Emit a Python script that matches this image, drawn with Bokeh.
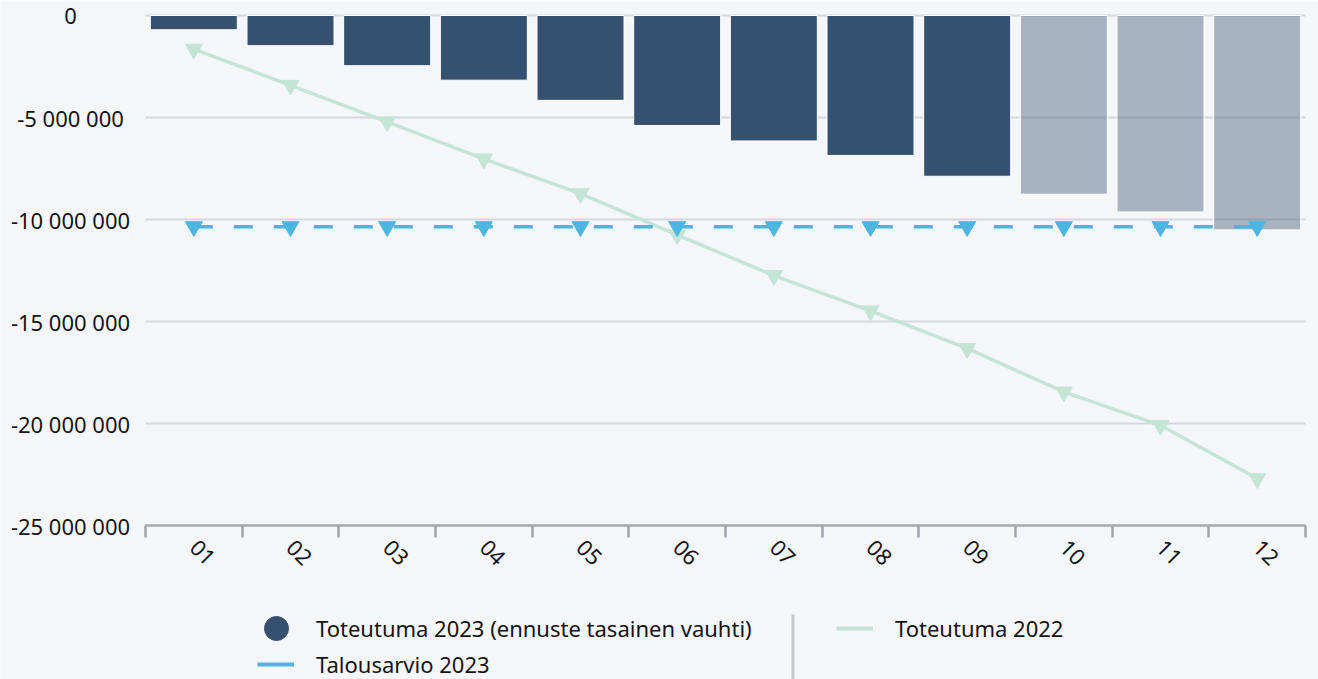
import math
from bokeh.plotting import figure
from bokeh.models import (ColumnDataSource, FixedTicker, Legend, LegendItem,
                          Label, BoxAnnotation, Range1d)
from bokeh.embed import file_html
from bokeh.resources import INLINE

# ---------------- data ----------------
months = ["01", "02", "03", "04", "05", "06", "07", "08", "09", "10", "11", "12"]
actual_2023 = [-0.70e6, -1.48e6, -2.46e6, -3.17e6, -4.16e6, -5.39e6,
               -6.15e6, -6.86e6, -7.88e6]
forecast_2023 = [-8.76e6, -9.63e6, -10.51e6]
budget_2023 = [-10.35e6] * 12
actual_2022 = [-1.65e6, -3.42e6, -5.21e6, -7.03e6, -8.73e6, -10.75e6,
               -12.75e6, -14.48e6, -16.32e6, -18.45e6, -20.09e6, -22.70e6]
y_ticks = [0, -5e6, -10e6, -15e6, -20e6, -25e6]

label_2023 = "Toteutuma 2023 (ennuste tasainen vauhti)"
label_budget = "Talousarvio 2023"
label_2022 = "Toteutuma 2022"

# ---------------- styles / layout ----------------
BG = "#f4f6fa"
BAR = "#36516f"
GREEN = "#c4e4d6"
BLUE = "#4db6e0"
GRID = "#d6d8dd"
TEXT = "#141414"
FONT = "Noto Sans"
FS = "22px"

W, H = 1318, 679            # figure size
L, R, T, B = 145, 1305, 15, 525   # plot area in pixels

n = len(months)
y_top, y_bot = y_ticks[0], y_ticks[-1]
px_x = (R - L) / n
px_y = (B - T) / (y_top - y_bot)

centers = [i + 0.5 for i in range(n)]
n_act = len(actual_2023)

src_act = ColumnDataSource(dict(x=centers[:n_act], v=actual_2023))
src_fc = ColumnDataSource(dict(x=centers[n_act:], v=forecast_2023))
src_22 = ColumnDataSource(dict(x=centers, v=actual_2022))
src_bud = ColumnDataSource(dict(x=centers, v=budget_2023))

p = figure(width=W, height=H,
           x_range=Range1d(-L / px_x, n + (W - R) / px_x),
           y_range=Range1d(y_bot - (H - B) / px_y, y_top + T / px_y),
           output_backend="svg", toolbar_location=None, min_border=0)
p.background_fill_color = BG
p.border_fill_color = BG
p.outline_line_color = None
p.xgrid.visible = False
p.ygrid.visible = False
p.yaxis.visible = False

# horizontal grid lines across the plot area
p.segment(x0=0, x1=n, y0=y_ticks, y1=y_ticks, line_color=GRID, line_width=2)

# x axis, fixed at the bottom value
ax = p.xaxis[0]
ax.fixed_location = y_bot
ax.bounds = (0, n)
ax.ticker = FixedTicker(ticks=centers, minor_ticks=list(range(n + 1)))
ax.major_label_overrides = {c: m for c, m in zip(centers, months)}
ax.major_tick_line_color = None
ax.major_tick_out = 0
ax.major_tick_in = 0
ax.minor_tick_line_color = "#a0a4aa"
ax.minor_tick_line_width = 2.5
ax.minor_tick_out = 12
ax.minor_tick_in = 0
ax.axis_line_color = "#a7abb0"
ax.axis_line_width = 2.5
ax.major_label_orientation = -math.pi / 4
ax.major_label_standoff = 6
ax.major_label_text_font = FONT
ax.major_label_text_font_size = FS
ax.major_label_text_color = TEXT

# y tick labels (centered, as in the reference)
for t in y_ticks:
    p.add_layout(Label(x=70, x_units="screen", y=t, y_units="data",
                       text=f"{t:,.0f}".replace(",", " "),
                       text_align="center", text_baseline="middle",
                       text_font=FONT, text_font_size=FS, text_color=TEXT))

# bars
p.vbar(x="x", top=0, bottom="v", width=0.9, source=src_act,
       fill_color=BAR, line_color="white", line_width=1)
p.vbar(x="x", top=0, bottom="v", width=0.9, source=src_fc,
       fill_color=BAR, fill_alpha=0.4, line_color="white", line_width=1)

# 2022 line
p.line(x="x", y="v", source=src_22, line_color=GREEN, line_width=3.5)
p.scatter(x="x", y="v", source=src_22, marker="inverted_triangle", size=17,
          fill_color=GREEN, line_color=GREEN)

# budget line
p.line(x="x", y="v", source=src_bud, line_color=BLUE, line_width=3.5,
       line_dash="19 21")
p.scatter(x="x", y="v", source=src_bud, marker="inverted_triangle", size=17,
          fill_color=BLUE, line_color=BLUE)

# legend symbols: renderers with a single undefined (NaN) point, so they
# draw nothing in the plot but give the legend its symbols
nan_src = dict(x=[float("nan")], y=[float("nan")])
d_circle = p.scatter(x="x", y="y", source=ColumnDataSource(nan_src),
                     marker="circle", fill_color=BAR, line_color=BAR)
d_blue = p.line(x="x", y="y", source=ColumnDataSource(nan_src),
                line_color=BLUE, line_width=4)
d_green = p.line(x="x", y="y", source=ColumnDataSource(nan_src),
                 line_color=GREEN, line_width=4)

def mk_legend(items, loc, gw, gh, standoff):
    lg = Legend(items=items, location=loc, glyph_width=gw, glyph_height=gh,
                label_standoff=standoff, padding=0, margin=0, spacing=0,
                border_line_alpha=0, background_fill_alpha=0,
                label_text_font=FONT, label_text_font_size=FS,
                label_text_color=TEXT, label_height=gh)
    p.add_layout(lg)
    return lg

mk_legend([LegendItem(label=label_2023, renderers=[d_circle])], (246, 21), 60, 60, 10)
mk_legend([LegendItem(label=label_budget, renderers=[d_blue])], (257, 0), 37, 30, 22)
mk_legend([LegendItem(label=label_2022, renderers=[d_green])], (836, 36), 37, 30, 22)

p.add_layout(BoxAnnotation(left=791, right=794, top=H - 614, bottom=0,
                           left_units="screen", right_units="screen",
                           top_units="screen", bottom_units="screen",
                           fill_color="#c5c7ca", fill_alpha=1, line_alpha=0))

html = file_html(p, INLINE)
open("out.html", "w").write(html)
